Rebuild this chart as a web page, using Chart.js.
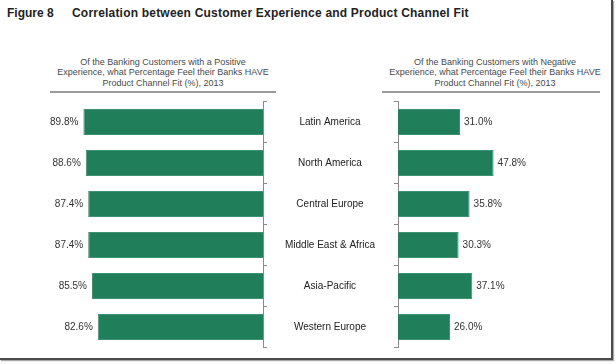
<!DOCTYPE html>
<html>
<head>
<meta charset="utf-8">
<script src="https://cdn.jsdelivr.net/npm/chart.js@4/dist/chart.umd.min.js"></script>
<style>
  html, body { margin: 0; padding: 0; background: #fff; }
  body { width: 616px; height: 364px; position: relative; overflow: hidden; font-family: "Liberation Sans", Arial, sans-serif; }
  .frame { position: absolute; left: 0; top: 0; width: 611px; height: 358px; border-right: 2px solid #4a4a4a; border-bottom: 2px solid #4a4a4a; box-shadow: 1px 1px 1px #aaa; }
  .title { position: absolute; top: 6px; font-weight: bold; font-size: 12px; color: #222; white-space: nowrap; }
  .sub { position: absolute; top: 56.5px; width: 250px; text-align: center; font-size: 9px; line-height: 10.5px; color: #4a4a4a; }
  .rule { position: absolute; top: 91px; height: 0; border-top: 2px solid #9a9a9a; }
  canvas { position: absolute; }
</style>
</head>
<body>
<div class="frame"></div>
<div class="title" style="left:7px">Figure 8</div>
<div class="title" style="left:72px; letter-spacing:0.2px">Correlation between Customer Experience and Product Channel Fit</div>
<div class="sub" style="left:38px">Of the Banking Customers with a Positive<br>Experience, what Percentage Feel their Banks HAVE<br>Product Channel Fit (%), 2013</div>
<div class="sub" style="left:370px">Of the Banking Customers with Negative<br>Experience, what Percentage Feel their Banks HAVE<br>Product Channel Fit (%), 2013</div>
<div class="rule" style="left:50px; width:226px"></div>
<div class="rule" style="left:382px; width:218px"></div>

<div style="position:absolute;left:0;top:95px;width:275px;height:262px"><canvas id="left-chart"></canvas></div>
<div style="position:absolute;left:268px;top:95px;width:340px;height:262px"><canvas id="right-chart"></canvas></div>

<script>
// ================== Data ==================
const regions = ['Latin America', 'North America', 'Central Europe', 'Middle East & Africa', 'Asia-Pacific', 'Western Europe'];
const positiveFit = [89.8, 88.6, 87.4, 87.4, 85.5, 82.6];
const negativeFit = [31.0, 47.8, 35.8, 30.3, 37.1, 26.0];

const barGreen = '#217e5a';
const axisGrey = '#8a8a8a';
const fontFamily = '"Liberation Sans", Arial, sans-serif';

// Plugin: value labels next to bar ends
const ValueLabelPlugin = {
  id: 'valueLabels',
  afterDatasetsDraw(chart, args, opts) {
    const { ctx } = chart;
    const meta = chart.getDatasetMeta(0);
    const data = chart.data.datasets[0].data;
    ctx.save();
    ctx.font = '10px ' + fontFamily;
    ctx.fillStyle = '#333';
    ctx.textBaseline = 'middle';
    ctx.textAlign = opts.side === 'left' ? 'right' : 'left';
    meta.data.forEach((bar, i) => {
      const x = opts.side === 'left' ? bar.x - 5 : bar.x + 4;
      ctx.fillText(data[i].toFixed(1) + '%', x, bar.y);
    });
    ctx.restore();
  }
};

function catAxis(position, showLabels, width) {
  return {
    position,
    grid: { drawOnChartArea: false, drawTicks: true, tickLength: 4, tickColor: axisGrey, offset: true },
    border: { display: true, color: axisGrey, width: 1 },
    ticks: {
      display: showLabels,
      crossAlign: 'center',
      padding: 19,
      color: '#222',
      font: { family: fontFamily, size: 10 }
    },
    afterFit(scale) {
      scale.width = width;
      // tick padding must not eat into the chart area height
      scale.paddingTop = 0;
      scale.paddingBottom = 0;
    }
  };
}

// 1) Positive experience (bars grow leftwards)
(function initLeft() {
  new Chart(document.getElementById('left-chart'), {
    type: 'bar',
    plugins: [ValueLabelPlugin],
    data: {
      labels: regions,
      datasets: [{
        data: positiveFit,
        backgroundColor: barGreen,
        borderColor: '#3f9271',
        borderWidth: 1,
        barPercentage: 0.634,
        categoryPercentage: 1
      }]
    },
    options: {
      indexAxis: 'y',
      responsive: true,
      maintainAspectRatio: false,
      animation: false,
      layout: { padding: { left: 63, right: 0, top: 6.5, bottom: 9.5 } },
      plugins: {
        legend: { display: false },
        tooltip: { enabled: false },
        valueLabels: { side: 'left' }
      },
      scales: {
        x: { display: false, reverse: true, min: 0, max: 100 },
        y: catAxis('right', false, 12)
      }
    }
  });
})();

// 2) Negative experience (bars grow rightwards, region names in the gap)
(function initRight() {
  new Chart(document.getElementById('right-chart'), {
    type: 'bar',
    plugins: [ValueLabelPlugin],
    data: {
      labels: regions,
      datasets: [{
        data: negativeFit,
        backgroundColor: barGreen,
        borderColor: '#3f9271',
        borderWidth: 1,
        barPercentage: 0.634,
        categoryPercentage: 1
      }]
    },
    options: {
      indexAxis: 'y',
      responsive: true,
      maintainAspectRatio: false,
      animation: false,
      layout: { padding: { left: 0, right: 10, top: 6.5, bottom: 9.5 } },
      plugins: {
        legend: { display: false },
        tooltip: { enabled: false },
        valueLabels: { side: 'right' }
      },
      scales: {
        x: { display: false, min: 0, max: 100 },
        y: catAxis('left', true, 130)
      }
    }
  });
})();
</script>
</body>
</html>
